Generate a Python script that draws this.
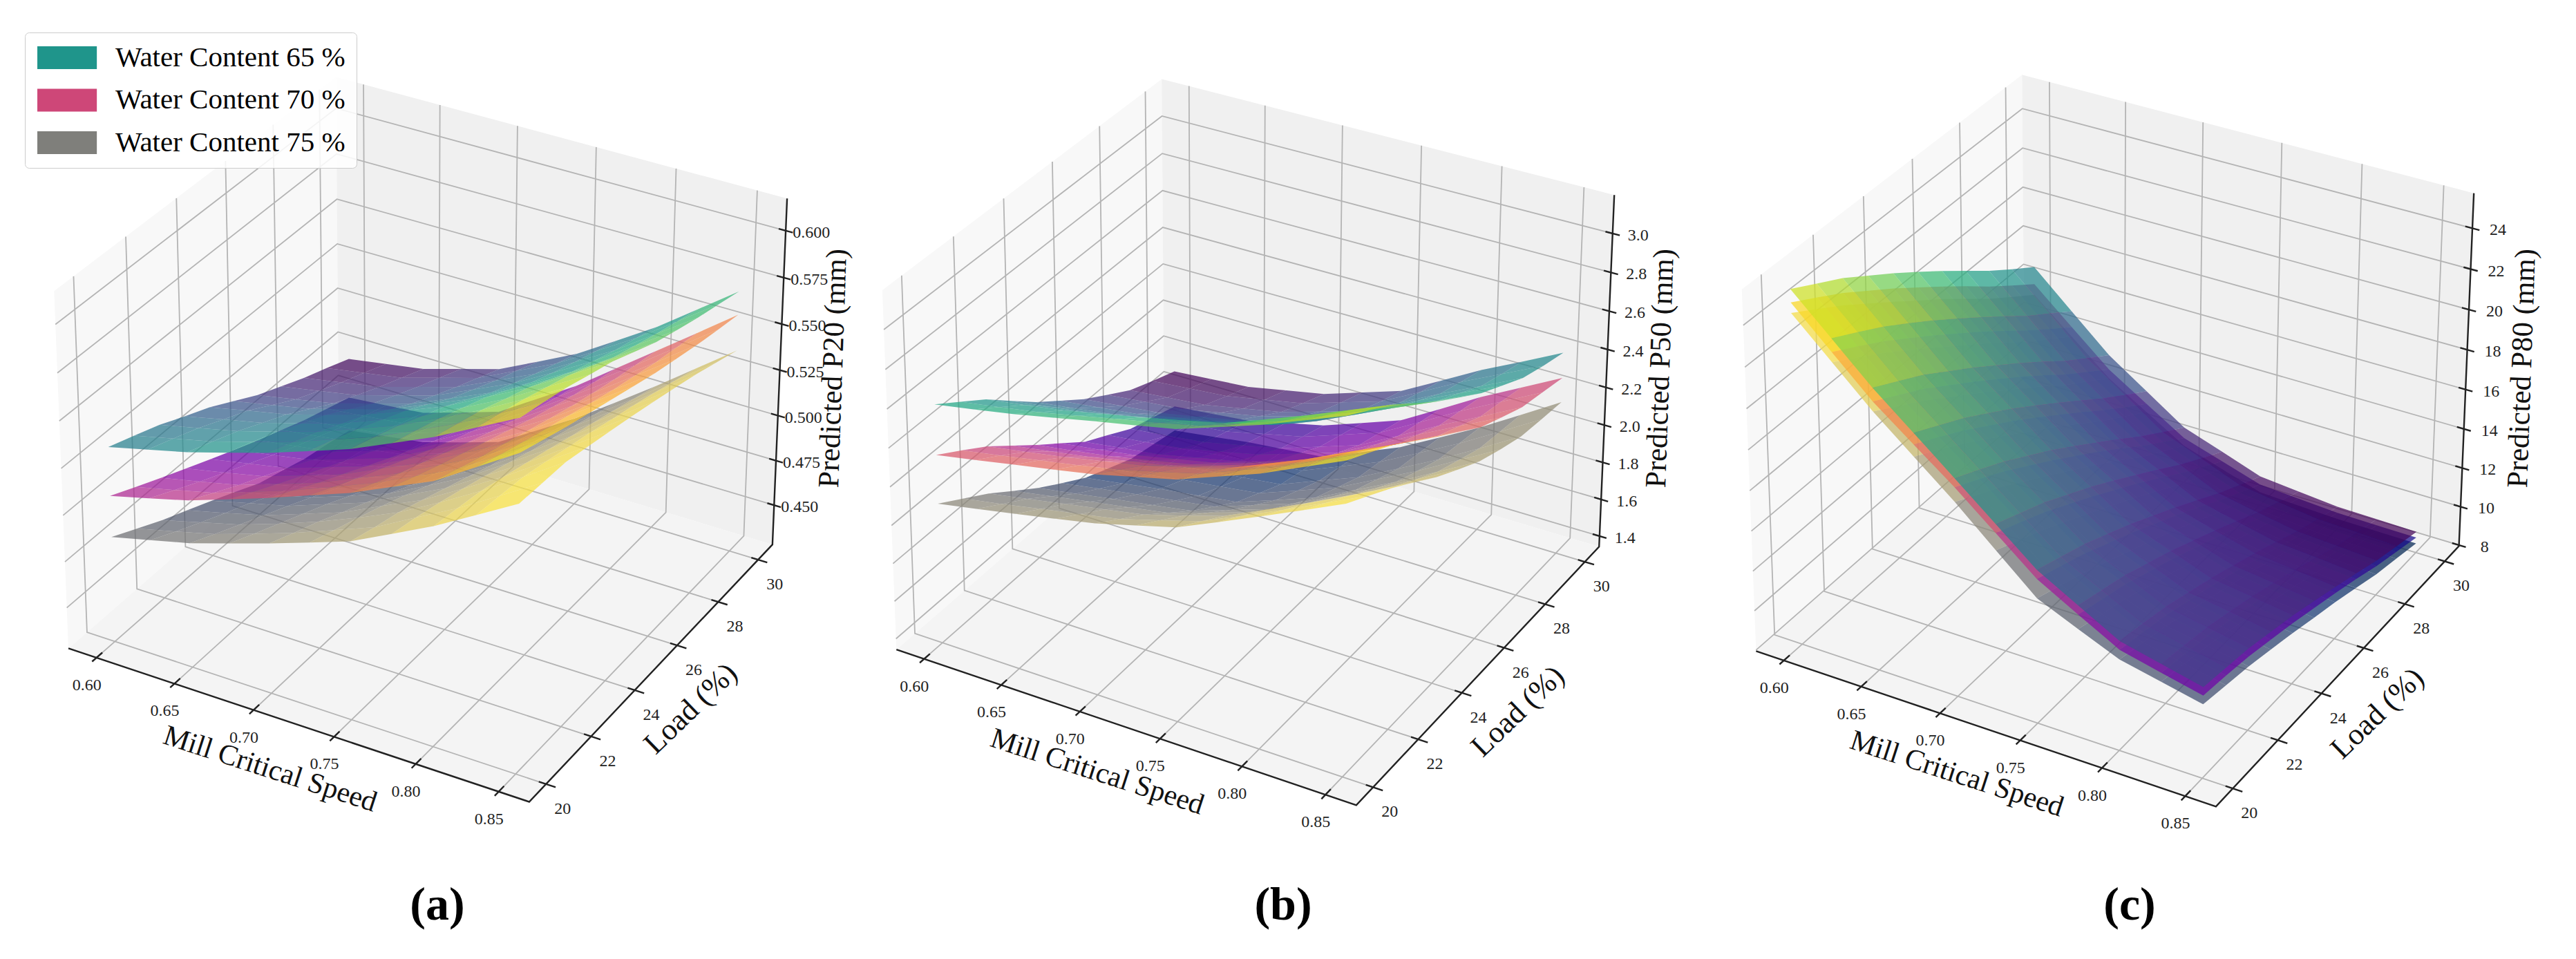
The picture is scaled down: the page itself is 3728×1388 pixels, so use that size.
import numpy as np, pandas as pd, altair as alt

SPEED_TICKS=[0.60,0.65,0.70,0.75,0.80,0.85]
LOAD_TICKS=[20,22,24,26,28,30]
Z_TICKS={'a':[0.450,0.475,0.500,0.525,0.550,0.575,0.600],'b':[1.4,1.6,1.8,2.0,2.2,2.4,2.6,2.8,3.0],'c':[8,10,12,14,16,18,20,22,24]}
Z_FMT={'a':'{:.3f}','b':'{:.1f}','c':'{:.0f}'}
Z_TITLE={'a':'Predicted P20 (mm)','b':'Predicted P50 (mm)','c':'Predicted P80 (mm)'}
SERIES=['Water Content 65 %','Water Content 70 %','Water Content 75 %']
GRID_SPEED=[0.600,0.625,0.650,0.675,0.700,0.725,0.750,0.775,0.800,0.825,0.850]
GRID_LOAD=[20,21,22,23,24,25,26,27,28,29,30]
# Surface heights, in thousandths of each panel's z-axis span.
# Rows run along GRID_SPEED, columns along GRID_LOAD.
P20_65=[[555,528,500,466,434,394,354,322,290,262,233],[582,554,525,491,458,416,375,342,310,281,251],[609,580,550,515,481,439,397,363,330,300,269],[642,613,583,548,514,472,430,396,363,333,302],[676,647,617,582,548,505,463,429,396,366,335],[715,688,659,626,593,553,512,480,448,420,390],[755,729,702,670,639,601,562,531,501,474,446],[805,781,756,727,698,661,624,595,568,543,517],[856,834,812,784,757,723,688,661,635,613,589],[915,896,875,850,826,794,761,737,714,693,672],[975,958,940,917,895,865,835,813,792,774,755]]
P20_70=[[418,383,349,316,284,252,221,193,164,140,116],[446,409,373,339,305,271,238,208,178,152,126],[475,436,398,363,327,291,256,224,193,165,137],[513,474,436,400,364,328,292,260,228,200,172],[552,513,474,438,401,365,330,297,265,236,208],[594,558,522,489,455,422,390,360,331,305,280],[636,603,570,540,509,479,450,423,397,374,352],[687,657,628,601,574,547,520,497,474,455,436],[738,711,685,662,638,614,591,571,552,536,520],[810,784,760,737,715,692,670,652,633,619,604],[882,858,834,813,792,771,750,733,716,702,689]]
P20_75=[[301,264,227,195,162,128,93,71,48,33,16],[328,291,256,222,190,154,119,95,70,52,32],[355,319,285,251,217,182,146,119,92,71,48],[390,356,323,290,257,221,185,158,131,107,82],[426,394,364,330,297,263,227,199,170,144,117],[464,437,411,383,353,321,289,263,237,212,186],[503,481,461,435,408,381,353,329,304,281,256],[559,543,524,502,479,455,429,407,383,359,336],[616,604,591,571,550,529,506,485,463,440,417],[681,673,664,647,628,610,589,569,548,525,502],[747,743,739,723,707,690,672,653,633,610,587]]
P50_65=[[673,623,573,512,452,399,347,303,260,231,204],[692,641,590,528,467,413,360,315,271,241,213],[712,660,608,545,483,427,373,327,282,251,222],[735,683,631,568,506,450,395,349,304,273,244],[759,707,654,591,529,473,418,372,327,295,266],[781,730,679,618,557,502,449,404,361,331,303],[804,755,705,645,585,532,481,437,395,366,340],[842,795,748,690,633,582,533,492,452,426,402],[881,836,792,736,682,633,586,548,510,487,465],[926,883,839,785,731,684,638,601,564,542,521],[971,929,886,833,781,735,690,654,619,597,578]]
P50_70=[[533,488,441,385,329,276,222,184,145,122,98],[553,507,459,402,345,291,237,197,158,133,109],[574,527,478,420,363,308,252,212,172,146,121],[594,547,500,442,385,331,276,236,196,172,147],[615,569,522,464,408,354,300,261,221,197,173],[642,597,551,495,440,388,335,297,259,236,213],[669,626,581,527,473,422,370,334,297,276,254],[711,670,628,576,525,476,426,392,358,339,320],[753,714,675,625,577,530,483,452,420,404,387],[804,766,728,679,631,586,540,509,478,463,447],[855,818,780,733,686,641,596,566,537,522,507]]
P50_75=[[397,352,307,255,204,159,116,85,55,40,25],[417,371,326,274,222,177,133,101,71,56,40],[438,392,346,293,241,195,151,119,88,72,56],[459,412,365,311,258,211,166,133,101,84,67],[481,433,385,330,276,228,182,148,115,97,79],[510,464,417,365,313,267,222,190,160,143,127],[540,496,451,401,350,306,263,233,204,190,175],[589,546,503,453,404,361,320,291,263,250,237],[639,597,555,507,459,417,377,349,323,311,299],[690,650,610,563,517,477,439,413,388,378,368],[742,704,665,621,576,538,502,477,455,446,438]]
P80_65=[[983,943,904,857,810,760,709,656,602,553,506],[883,844,804,758,711,661,610,558,504,456,408],[783,744,705,658,612,562,512,460,406,358,311],[695,657,619,575,530,481,432,381,330,283,237],[606,570,533,490,447,400,352,303,253,207,163],[516,485,454,416,378,336,293,249,204,164,125],[426,400,374,341,308,271,234,195,155,120,86],[365,344,323,295,267,235,203,169,134,104,75],[304,288,272,249,226,200,173,144,114,89,65],[278,265,251,231,210,186,161,135,107,85,63],[252,241,230,212,194,172,149,125,100,80,61]]
P80_70=[[947,906,864,816,768,717,665,612,557,506,456],[846,806,764,717,669,619,569,516,462,411,362],[746,706,666,619,572,523,473,421,367,318,269],[663,625,585,540,495,447,398,348,296,247,200],[581,544,506,462,418,372,325,276,225,178,132],[491,460,427,389,350,309,268,224,179,137,97],[401,375,348,315,282,247,211,173,133,97,62],[340,319,298,270,243,212,181,149,114,84,54],[280,265,248,226,204,179,153,126,97,71,47],[254,241,227,207,187,165,142,117,90,67,45],[229,219,207,190,172,152,131,109,84,64,44]]
P80_75=[[919,875,830,781,731,680,630,576,522,473,425],[819,776,732,684,635,585,535,483,429,382,334],[719,676,634,586,539,489,440,389,336,290,243],[630,590,549,504,458,411,365,315,265,220,176],[541,503,465,421,378,333,289,242,193,151,109],[444,412,380,343,306,267,229,188,146,110,74],[348,322,296,265,234,202,170,135,99,69,39],[300,278,257,230,204,175,147,117,85,60,34],[253,236,218,196,173,149,126,99,72,50,29],[229,214,199,179,159,137,115,91,66,47,28],[205,192,179,162,144,124,105,83,60,44,27]]
GRID={('a',65):P20_65,('a',70):P20_70,('a',75):P20_75,('b',65):P50_65,('b',70):P50_70,('b',75):P50_75,('c',65):P80_65,('c',70):P80_70,('c',75):P80_75}
SMIN,SMAX=0.5818,0.8682
LMIN,LMAX=19.27,30.73
ZLIM={'a':(0.4277,0.617),'b':(1.342,3.196),'c':(7.95,25.7)}
CORNERS={
'a':[((0,0,0),(103,936)),((1,0,0),(765.5,1158)),((1,1,0),(1117,788)),((0,1,0),(488,601)),((0,0,1),(79,422)),((1,1,1),(1139,288)),((0,1,1),(487,108))],
'b':[((0,0,0),(1299,939)),((1,0,0),(1961,1163)),((1,1,0),(2314,791.5)),((0,1,0),(1683,606)),((0,0,1),(1277,420.5)),((1,1,1),(2336,283)),((0,1,1),(1682,112.5))],
'c':[((0,0,0),(2544,940)),((1,0,0),(3206,1166)),((1,1,0),(3558.5,789)),((0,1,0),(2928,604)),((0,0,1),(2521,418)),((1,1,1),(3580,280)),((0,1,1),(2927,106.7))],
}
ZY={'a':[731,667,603,537,470,402,334],'b':[776,724,669.6,615.6,561,506,451,394,338],'c':[789,733.5,677,621,565,507.6,449,390,330]}
FT={'a':[(141,953),(251,990.5),(365,1028),(480,1068),(599,1106),(718,1149)],
    'b':[(1336.5,953),(1449.6,991),(1563,1030.6),(1679,1070),(1796,1111),(1914,1151)],
    'c':[(2581,956),(2693,995),(2808,1033),(2924,1072),(3041,1112),(3159,1153)]}
RT={'a':[(791,1134),(858,1065),(921,997),(985,933),(1044,870),(1095,809)],
    'b':[(1987,1140),(2055,1071),(2118,1003),(2180,936),(2238,872.5),(2292,811)],
    'c':[(3232,1142),(3298,1072),(3359,1004),(3423,937),(3483,873),(3538,810)]}
def nu(s): return (s-SMIN)/(SMAX-SMIN)
def nv(l): return (l-LMIN)/(LMAX-LMIN)
def nw(p,z): return (z-ZLIM[p][0])/(ZLIM[p][1]-ZLIM[p][0])
def fit(p):
    pts=list(CORNERS[p])
    for z,y in zip(Z_TICKS[p],ZY[p]):
        (ax,ay),(bx,by)=CORNERS[p][2][1],CORNERS[p][5][1]
        pts.append(((1,1,nw(p,z)),(ax+(bx-ax)*(y-ay)/(by-ay),y)))
    for s,xy in zip(SPEED_TICKS,FT[p]): pts.append(((nu(s),0,0),xy))
    for l,xy in zip(LOAD_TICKS,RT[p]): pts.append(((1,nv(l),0),xy))
    A=[]
    for (X,Y,Z),(x,y) in pts:
        x/=1000;y/=1000
        A.append([X,Y,Z,1,0,0,0,0,-x*X,-x*Y,-x*Z,-x])
        A.append([0,0,0,0,X,Y,Z,1,-y*X,-y*Y,-y*Z,-y])
    return np.linalg.svd(np.array(A))[2][-1].reshape(3,4)
CAM={p:fit(p) for p in 'abc'}
def X(p,u,v,w):
    r=CAM[p]@np.array([u,v,w,1.0]); return r[0]/r[2]*1000,r[1]/r[2]*1000
CM={65:['#440154','#482475','#414487','#355f8d','#2a788e','#21918c','#22a884','#44bf70','#7ad151','#bddf26','#fde725'],
    70:['#0d0887','#41049d','#6a00a8','#8f0da4','#b12a90','#cc4778','#e16462','#f1844b','#fca636','#fcce25','#f0f921'],
    75:['#00224e','#123570','#3b496c','#575d6d','#707173','#8a8678','#a59c74','#c3b369','#e1cc55','#f2da48','#fee838']}
def cmap(wc,t):
    t=min(max(t,0),1)*10;k=min(int(t),9);f=t-k
    a=[int(CM[wc][k][n:n+2],16) for n in (1,3,5)];b=[int(CM[wc][k+1][n:n+2],16) for n in (1,3,5)]
    return '#%02x%02x%02x'%tuple(int(round(a[m]+(b[m]-a[m])*f)) for m in range(3))
walls=[];grids=[];axes=[];ticktext=[];surf=[]
pid=0
def add(store,p,seq,**kw):
    global pid
    pid+=1
    for o,q in enumerate(seq):
        x,y=X(p,*q);store.append(dict(x=x,y=y,id=pid,o=o,**kw))
for p in 'abc':
    add(walls,p,[(0,0,0),(0,1,0),(0,1,1),(0,0,1)],c='#f8f8f8')
    add(walls,p,[(0,1,0),(1,1,0),(1,1,1),(0,1,1)],c='#f0f0f0')
    add(walls,p,[(0,0,0),(1,0,0),(1,1,0),(0,1,0)],c='#f4f4f4')
    for s in SPEED_TICKS:
        u=nu(s);add(grids,p,[(u,0,0),(u,1,0),(u,1,1)]);add(axes,p,[(u,-.015,0),(u,.02,0)])
        x,y=X(p,u,0,0);ticktext.append(dict(x=x-14,y=y+40,t=f'{s:.2f}'))
    for l in LOAD_TICKS:
        v=nv(l);add(grids,p,[(1,v,0),(0,v,0),(0,v,1)]);add(axes,p,[(.985,v,0),(1.02,v,0)])
        x,y=X(p,1,v,0);ticktext.append(dict(x=x+24,y=y+36,t=str(l)))
    for z in Z_TICKS[p]:
        w=nw(p,z);add(grids,p,[(0,0,w),(0,1,w),(1,1,w)]);add(axes,p,[(.985,1,w),(1.015,1,w)])
        x,y=X(p,1,1,w);ticktext.append(dict(x=x+37,y=y+3,t=Z_FMT[p].format(z)))
    add(axes,p,[(0,0,0),(1,0,0),(1,1,0),(1,1,1)])
    for wc in (75,70,65):
        Z=np.array(GRID[(p,wc)])/999;lo,hi=Z.min(),Z.max()
        for j in range(9,-1,-1):
            for i in range(10):
                m=(Z[i,j]+Z[i+1,j]+Z[i,j+1]+Z[i+1,j+1])/4
                add(surf,p,[(nu(GRID_SPEED[a]),nv(GRID_LOAD[b]),Z[a,b]) for a,b in [(i,j),(i+1,j),(i+1,j+1),(i,j+1)]],c=cmap(wc,(m-lo)/(hi-lo)))
xs=alt.X('x:Q',scale=alt.Scale(domain=[8,3720],nice=False,zero=False),axis=None)
ys=alt.Y('y:Q',scale=alt.Scale(domain=[1376,8],nice=False,zero=False),axis=None)
def poly(rows,op=1):
    return alt.Chart(pd.DataFrame(rows)).mark_line(filled=True,opacity=op,strokeWidth=0).encode(x=xs,y=ys,detail='id:N',order='o:Q',fill=alt.Fill('c:N',scale=None))
def lines(rows,color,w):
    return alt.Chart(pd.DataFrame(rows)).mark_line(color=color,strokeWidth=w).encode(x=xs,y=ys,detail='id:N',order='o:Q')
FONT='Liberation Serif'
titles=[]
for p,(sx,ly,zx) in {'a':(0,0,1206),'b':(1197,4,2403),'c':(2441,7,3650)}.items():
    titles.append(dict(x=391+sx,y=1113+ly,t='Mill Critical Speed',a=18,s=42))
    titles.append(dict(x=1000+sx,y=1026+ly,t='Load (%)',a=-44,s=44))
    titles.append(dict(x=zx,y=533,t=Z_TITLE[p],a=-88,s=43))
caps=[dict(x=633,y=1311,t='(a)'),dict(x=1857,y=1311,t='(b)'),dict(x=3082,y=1311,t='(c)')]
tt=alt.Chart(pd.DataFrame(ticktext)).mark_text(font=FONT,fontSize=24,color='#222222').encode(x=xs,y=ys,text='t:N')
ti=alt.Chart(pd.DataFrame(titles)).mark_text(font=FONT,color='#111111').encode(x=xs,y=ys,text='t:N',angle=alt.Angle('a:Q',scale=None),size=alt.Size('s:Q',scale=None))
ca=alt.Chart(pd.DataFrame(caps)).mark_text(font=FONT,fontSize=68,fontWeight='bold',color='#000000').encode(x=xs,y=ys,text='t:N')
leg=alt.Chart(pd.DataFrame(dict(x=[100,100,100],y=[100,100,100],n=SERIES))).mark_square(opacity=0,size=100).encode(x=xs,y=ys,color=alt.Color('n:N',scale=alt.Scale(domain=SERIES,range=['#1f958b','#ce4778','#7f7f7b']),
  legend=alt.Legend(title=None,orient='none',legendX=28,legendY=39,padding=16,symbolType='M-1.12,-1H4.1V1H-1.12Z',symbolSize=1089,symbolOpacity=1,symbolStrokeWidth=0,labelFont=FONT,labelFontSize=41,labelOffset=74,labelColor='#000000',rowPadding=19.5,fillColor='rgba(255,255,255,0.85)',strokeColor='#cccccc',cornerRadius=6,labelLimit=500,zindex=1)))
chart=alt.layer(poly(walls),lines(grids,'#b4b4b4',1.8),lines(axes,'#222222',2.4),poly(surf,.72),tt,ti,ca,leg).properties(width=3712,height=1368,padding=0,autosize=alt.AutoSizeParams(type='none')).configure_view(strokeWidth=0)
chart.save("out.html",embed_options={"renderer":"svg","actions":False})
